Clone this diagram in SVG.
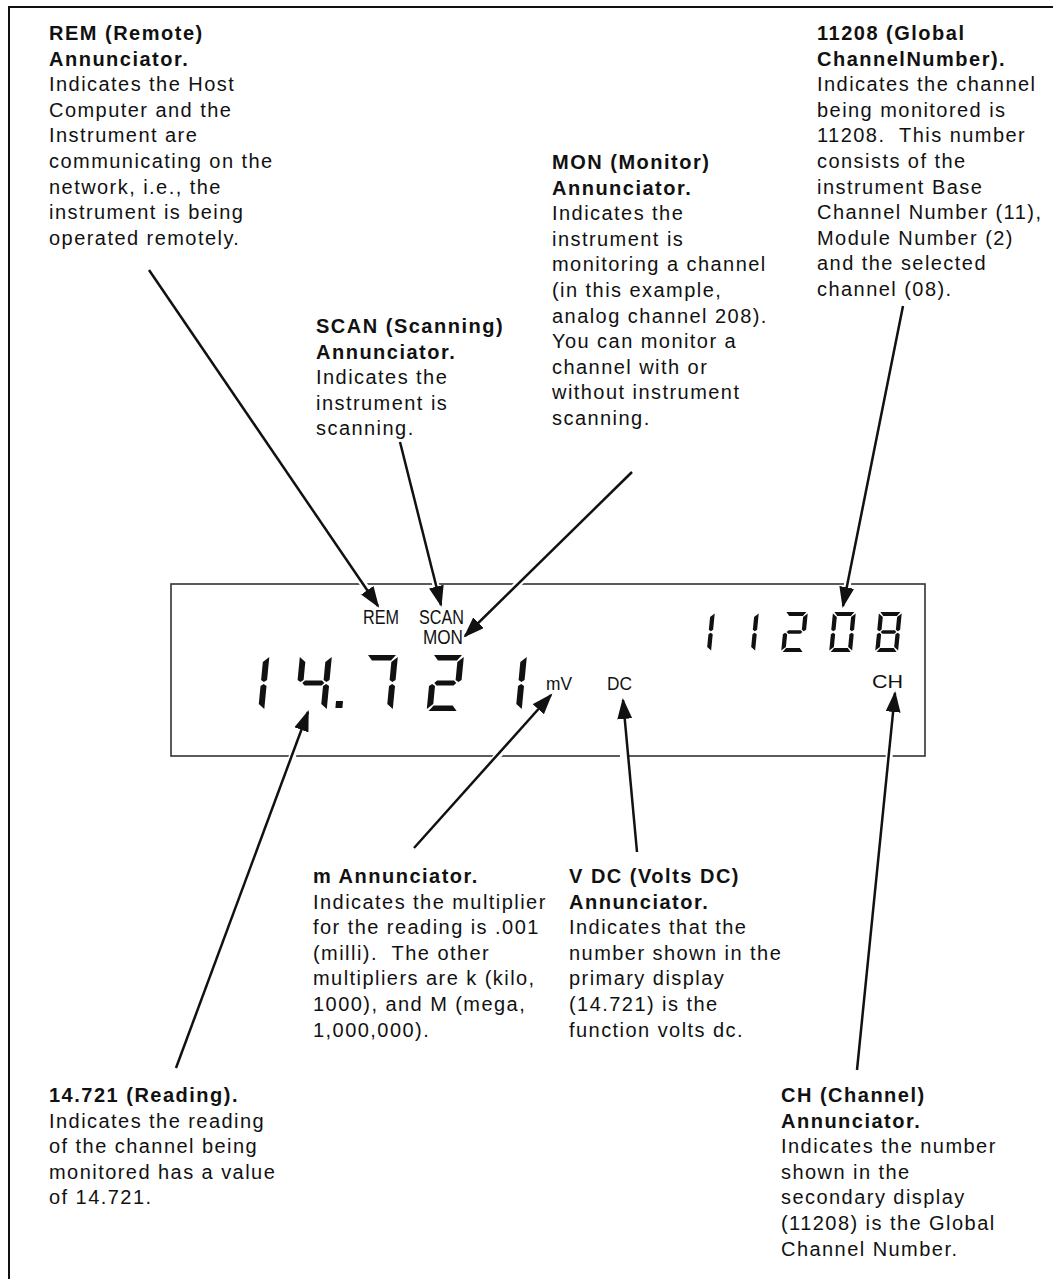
<svg xmlns="http://www.w3.org/2000/svg" xmlns:xlink="http://www.w3.org/1999/xlink" width="1053" height="1279" viewBox="0 0 1053 1279">
<style>
.t{font-family:"Liberation Sans",Arial,Helvetica,sans-serif;font-size:20px;letter-spacing:1.45px;fill:#111}
.b{font-weight:bold;letter-spacing:1.5px}
.lcd{font-family:"Liberation Sans",Arial,Helvetica,sans-serif;fill:#111}
.seg{fill:#111}
.con{stroke:#111;stroke-width:2.5;fill:none;marker-end:url(#ah)}
.halo{stroke:#fff;stroke-width:7;fill:none}
</style>
<defs>
<marker id="ah" markerUnits="userSpaceOnUse" markerWidth="24" markerHeight="16" refX="19" refY="7.5" orient="auto">
<path d="M0,0 L21,7.5 L0,15 Z" fill="#111"/>
</marker>
<polygon id="sa" class="seg" points="2,0 30,0 25.5,5.5 6.5,5.5"/>
<polygon id="sb" class="seg" points="32,2 32,25 29,27 26,25 26,7"/>
<polygon id="sc" class="seg" points="32,31 32,54 26,49 26,31 29,29"/>
<polygon id="sd" class="seg" points="6.5,50.5 25.5,50.5 30,56 2,56"/>
<polygon id="se" class="seg" points="0,31 3,29 6,31 6,49 0,54"/>
<polygon id="sf" class="seg" points="0,2 6,7 6,25 3,27 0,25"/>
<polygon id="sg" class="seg" points="5,28 7.5,25.5 24.5,25.5 27,28 24.5,30.5 7.5,30.5"/>
<g id="d1"><use xlink:href="#sb"/><use xlink:href="#sc"/></g>
<g id="d4"><use xlink:href="#sf"/><use xlink:href="#sg"/><use xlink:href="#sb"/><use xlink:href="#sc"/></g>
<g id="d7"><use xlink:href="#sa"/><use xlink:href="#sb"/><use xlink:href="#sc"/></g>
<g id="d2"><use xlink:href="#sa"/><use xlink:href="#sb"/><use xlink:href="#sg"/><use xlink:href="#se"/><use xlink:href="#sd"/></g>
<g id="d0"><use xlink:href="#sa"/><use xlink:href="#sb"/><use xlink:href="#sc"/><use xlink:href="#sd"/><use xlink:href="#se"/><use xlink:href="#sf"/></g>
<g id="d8"><use xlink:href="#sa"/><use xlink:href="#sb"/><use xlink:href="#sc"/><use xlink:href="#sd"/><use xlink:href="#se"/><use xlink:href="#sf"/><use xlink:href="#sg"/></g>
</defs>
<rect width="1053" height="1279" fill="#fff"/>
<path d="M9,1290 L9,7 L1060,7" fill="none" stroke="#111" stroke-width="2"/>

<g id="display">
<rect x="171" y="584" width="754" height="172" fill="#fff" stroke="#333" stroke-width="1.6"/>
<text class="lcd" x="363" y="624" font-size="20" textLength="36" lengthAdjust="spacingAndGlyphs">REM</text>
<text class="lcd" x="419" y="624" font-size="20" textLength="45" lengthAdjust="spacingAndGlyphs">SCAN</text>
<text class="lcd" x="423" y="644" font-size="20" textLength="40" lengthAdjust="spacingAndGlyphs">MON</text>
<text class="lcd" x="546" y="690" font-size="19" textLength="26" lengthAdjust="spacingAndGlyphs">mV</text>
<text class="lcd" x="607" y="690" font-size="19" textLength="25" lengthAdjust="spacingAndGlyphs">DC</text>
<text class="lcd" x="872" y="688" font-size="18" textLength="31" lengthAdjust="spacingAndGlyphs">CH</text>
<g id="primary">
<use xlink:href="#d1" transform="translate(237.5,655) skewX(-5.5)"/>
<use xlink:href="#d4" transform="translate(300,655) skewX(-5.5)"/>
<polygon class="seg" points="336,701 343,701 342.4,708 335.4,708"/>
<use xlink:href="#d7" transform="translate(366,655) skewX(-5.5)"/>
<use xlink:href="#d2" transform="translate(432,655) skewX(-5.5)"/>
<use xlink:href="#d1" transform="translate(495,655) skewX(-5.5)"/>
</g>
<g id="secondary">
<use xlink:href="#d1" transform="translate(692,612) skewX(-5.5) scale(0.714)"/>
<use xlink:href="#d1" transform="translate(736,612) skewX(-5.5) scale(0.714)"/>
<use xlink:href="#d2" transform="translate(785,612) skewX(-5.5) scale(0.714)"/>
<use xlink:href="#d0" transform="translate(833,612) skewX(-5.5) scale(0.714)"/>
<use xlink:href="#d8" transform="translate(879,612) skewX(-5.5) scale(0.714)"/>
</g>
</g>

<g id="connectors">
<line class="halo" x1="300" y1="490" x2="366" y2="588"/>
<line class="halo" x1="427" y1="550" x2="437" y2="590"/>
<line class="halo" x1="530" y1="572" x2="480" y2="621"/>
<line class="halo" x1="852" y1="560" x2="846" y2="592"/>
<line class="halo" x1="288" y1="768" x2="302" y2="730"/>
<line class="halo" x1="485" y1="770" x2="540" y2="708"/>
<line class="halo" x1="624" y1="770" x2="622" y2="718"/>
<line class="halo" x1="888" y1="770" x2="893" y2="712"/>
<line class="con" x1="149" y1="270" x2="378" y2="606"/>
<line class="con" x1="400" y1="442" x2="441" y2="605"/>
<line class="con" x1="632" y1="472" x2="465" y2="636"/>
<line class="con" x1="903" y1="306" x2="843" y2="606"/>
<line class="con" x1="176" y1="1068" x2="308" y2="712"/>
<line class="con" x1="414" y1="848" x2="551" y2="695"/>
<line class="con" x1="637" y1="852" x2="623" y2="700"/>
<line class="con" x1="857" y1="1070" x2="895" y2="693"/>
</g>

<g id="rem-note">
<text class="t" x="49" y="40"><tspan class="b" x="49">REM (Remote)</tspan><tspan class="b" x="49" dy="25.6">Annunciator.</tspan><tspan x="49" dy="25.6">Indicates the Host</tspan><tspan x="49" dy="25.6">Computer and the</tspan><tspan x="49" dy="25.6">Instrument are</tspan><tspan x="49" dy="25.6">communicating on the</tspan><tspan x="49" dy="25.6">network, i.e., the</tspan><tspan x="49" dy="25.6">instrument is being</tspan><tspan x="49" dy="25.6">operated remotely.</tspan></text>
</g>
<g id="scan-note">
<text class="t" x="316" y="333"><tspan class="b" x="316">SCAN (Scanning)</tspan><tspan class="b" x="316" dy="25.6">Annunciator.</tspan><tspan x="316" dy="25.6">Indicates the</tspan><tspan x="316" dy="25.6">instrument is</tspan><tspan x="316" dy="25.6">scanning.</tspan></text>
</g>
<g id="mon-note">
<text class="t" x="552" y="169"><tspan class="b" x="552">MON (Monitor)</tspan><tspan class="b" x="552" dy="25.6">Annunciator.</tspan><tspan x="552" dy="25.6">Indicates the</tspan><tspan x="552" dy="25.6">instrument is</tspan><tspan x="552" dy="25.6">monitoring a channel</tspan><tspan x="552" dy="25.6">(in this example,</tspan><tspan x="552" dy="25.6">analog channel 208).</tspan><tspan x="552" dy="25.6">You can monitor a</tspan><tspan x="552" dy="25.6">channel with or</tspan><tspan x="552" dy="25.6">without instrument</tspan><tspan x="552" dy="25.6">scanning.</tspan></text>
</g>
<g id="global-note">
<text class="t" x="817" y="40"><tspan class="b" x="817">11208 (Global</tspan><tspan class="b" x="817" dy="25.6">ChannelNumber).</tspan><tspan x="817" dy="25.6">Indicates the channel</tspan><tspan x="817" dy="25.6">being monitored is</tspan><tspan x="817" dy="25.6" xml:space="preserve">11208.  This number</tspan><tspan x="817" dy="25.6">consists of the</tspan><tspan x="817" dy="25.6">instrument Base</tspan><tspan x="817" dy="25.6">Channel Number (11),</tspan><tspan x="817" dy="25.6">Module Number (2)</tspan><tspan x="817" dy="25.6">and the selected</tspan><tspan x="817" dy="25.6">channel (08).</tspan></text>
</g>
<g id="m-note">
<text class="t" x="313" y="883"><tspan class="b" x="313">m Annunciator.</tspan><tspan x="313" dy="25.6">Indicates the multiplier</tspan><tspan x="313" dy="25.6">for the reading is .001</tspan><tspan x="313" dy="25.6" xml:space="preserve">(milli).  The other</tspan><tspan x="313" dy="25.6">multipliers are k (kilo,</tspan><tspan x="313" dy="25.6">1000), and M (mega,</tspan><tspan x="313" dy="25.6">1,000,000).</tspan></text>
</g>
<g id="vdc-note">
<text class="t" x="569" y="883"><tspan class="b" x="569">V DC (Volts DC)</tspan><tspan class="b" x="569" dy="25.6">Annunciator.</tspan><tspan x="569" dy="25.6">Indicates that the</tspan><tspan x="569" dy="25.6">number shown in the</tspan><tspan x="569" dy="25.6">primary display</tspan><tspan x="569" dy="25.6">(14.721) is the</tspan><tspan x="569" dy="25.6">function volts dc.</tspan></text>
</g>
<g id="reading-note">
<text class="t" x="49" y="1102"><tspan class="b" x="49">14.721 (Reading).</tspan><tspan x="49" dy="25.6">Indicates the reading</tspan><tspan x="49" dy="25.6">of the channel being</tspan><tspan x="49" dy="25.6">monitored has a value</tspan><tspan x="49" dy="25.6">of 14.721.</tspan></text>
</g>
<g id="ch-note">
<text class="t" x="781" y="1102"><tspan class="b" x="781">CH (Channel)</tspan><tspan class="b" x="781" dy="25.6">Annunciator.</tspan><tspan x="781" dy="25.6">Indicates the number</tspan><tspan x="781" dy="25.6">shown in the</tspan><tspan x="781" dy="25.6">secondary display</tspan><tspan x="781" dy="25.6">(11208) is the Global</tspan><tspan x="781" dy="25.6">Channel Number.</tspan></text>
</g>
</svg>
